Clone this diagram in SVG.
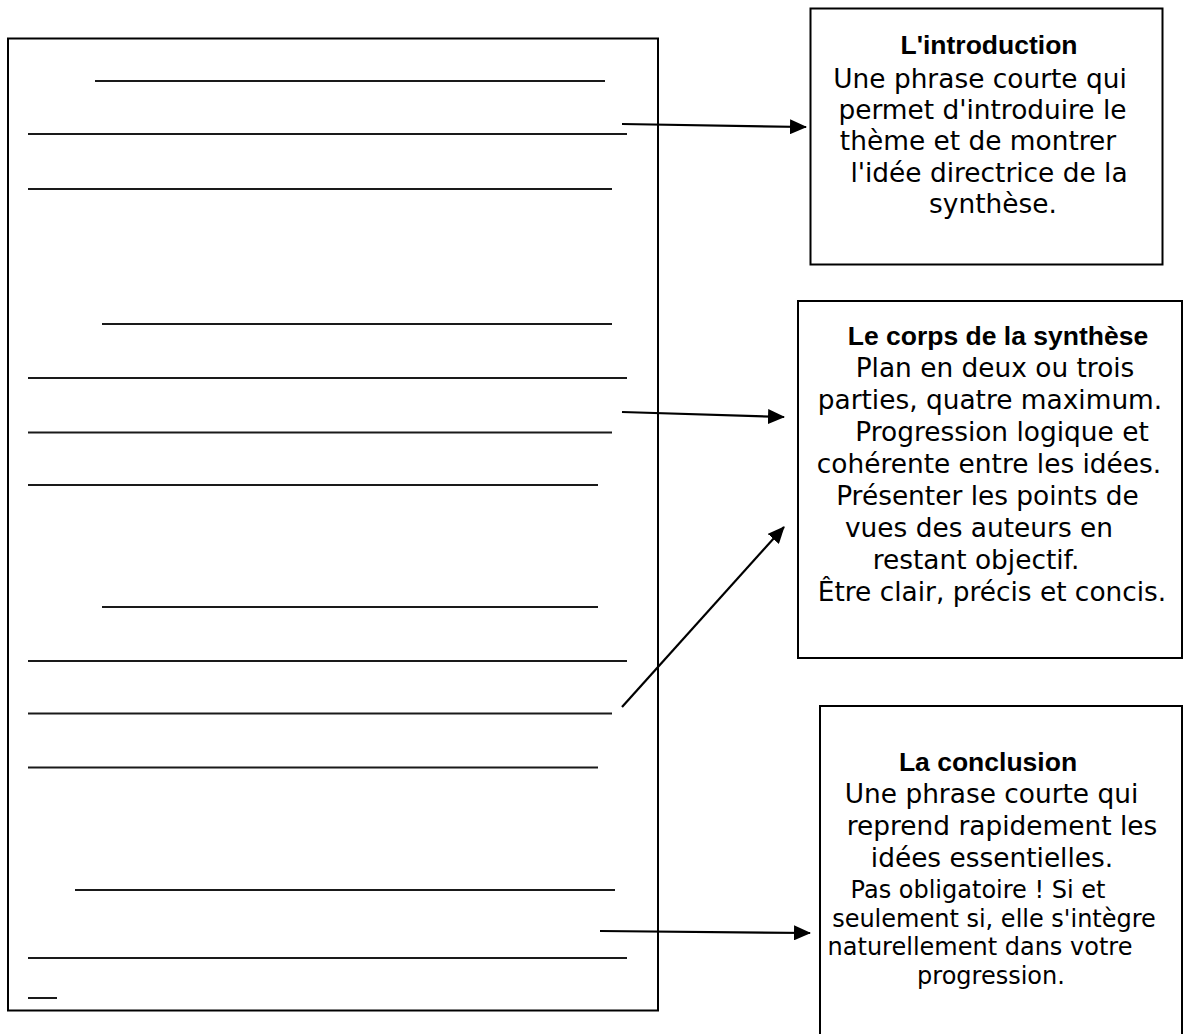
<svg xmlns="http://www.w3.org/2000/svg" width="1184" height="1034" viewBox="0 0 1184 1034">
<style>
.frame{fill:#fff;stroke:#000;stroke-width:2}
.rule{stroke:#1a1a1a;stroke-width:2}
.conn{stroke:#000;stroke-width:2.2;fill:none}
.title{font-family:"Liberation Sans",Arial,sans-serif;font-weight:bold;font-size:26.5px;fill:#000;text-anchor:middle}
.body{font-family:"DejaVu Sans",Verdana,sans-serif;font-size:26.4px;fill:#000;text-anchor:middle}
.small{font-family:"DejaVu Sans",Verdana,sans-serif;font-size:24px;fill:#000;text-anchor:middle}
</style>
<defs>
<marker id="ah" markerUnits="userSpaceOnUse" markerWidth="17" markerHeight="15" viewBox="0 0 17 15" refX="16" refY="7.5" orient="auto">
<path d="M0,0 L17,7.5 L0,15 z" fill="#000"/>
</marker>
</defs>
<rect width="1184" height="1034" fill="#fff"/>
<g id="page">
<rect class="frame" x="8" y="38.5" width="650" height="972"/>
<line class="rule" x1="95" y1="81" x2="605" y2="81"/>
<line class="rule" x1="28" y1="134" x2="627" y2="134"/>
<line class="rule" x1="28" y1="189" x2="612" y2="189"/>
<line class="rule" x1="102" y1="324" x2="612" y2="324"/>
<line class="rule" x1="28" y1="378" x2="627" y2="378"/>
<line class="rule" x1="28" y1="432.5" x2="612" y2="432.5"/>
<line class="rule" x1="28" y1="485" x2="598" y2="485"/>
<line class="rule" x1="102" y1="607" x2="598" y2="607"/>
<line class="rule" x1="28" y1="661" x2="627" y2="661"/>
<line class="rule" x1="28" y1="713.5" x2="612" y2="713.5"/>
<line class="rule" x1="28" y1="767.5" x2="598" y2="767.5"/>
<line class="rule" x1="75" y1="890" x2="615" y2="890"/>
<line class="rule" x1="28" y1="958" x2="627" y2="958"/>
<line class="rule" x1="28" y1="998" x2="57" y2="998"/>
</g>
<g id="introduction">
<rect class="frame" x="810.5" y="8.5" width="352" height="256"/>
<text class="title" x="989" y="54">L'introduction</text>
<text class="body" x="980" y="88">Une phrase courte qui</text>
<text class="body" x="982.5" y="119">permet d'introduire le</text>
<text class="body" x="978" y="150">thème et de montrer</text>
<text class="body" x="989" y="182">l'idée directrice de la</text>
<text class="body" x="993" y="213">synthèse.</text>
</g>
<g id="corps">
<rect class="frame" x="798" y="301" width="384" height="357"/>
<text class="title" x="998" y="345">Le corps de la synthèse</text>
<text class="body" x="995" y="377">Plan en deux ou trois</text>
<text class="body" x="990" y="409">parties, quatre maximum.</text>
<text class="body" x="1002" y="441">Progression logique et</text>
<text class="body" x="989" y="473">cohérente entre les idées.</text>
<text class="body" x="987.5" y="505">Présenter les points de</text>
<text class="body" x="979" y="537">vues des auteurs en</text>
<text class="body" x="976" y="569">restant objectif.</text>
<text class="body" x="992" y="601">Être clair, précis et concis.</text>
</g>
<g id="conclusion">
<rect class="frame" x="820" y="706" width="362" height="340"/>
<text class="title" x="988" y="771">La conclusion</text>
<text class="body" x="991.5" y="803">Une phrase courte qui</text>
<text class="body" x="1002" y="835">reprend rapidement les</text>
<text class="body" x="992" y="867">idées essentielles.</text>
<text class="small" x="978" y="898">Pas obligatoire ! Si et</text>
<text class="small" x="994" y="927">seulement si, elle s'intègre</text>
<text class="small" x="980" y="955">naturellement dans votre</text>
<text class="small" x="991" y="984">progression.</text>
</g>
<g id="connectors">
<line class="conn" x1="622" y1="124" x2="806" y2="127" marker-end="url(#ah)"/>
<line class="conn" x1="622" y1="412" x2="784" y2="417" marker-end="url(#ah)"/>
<line class="conn" x1="622" y1="707" x2="784" y2="527" marker-end="url(#ah)"/>
<line class="conn" x1="600" y1="931" x2="810" y2="933" marker-end="url(#ah)"/>
</g>
</svg>
